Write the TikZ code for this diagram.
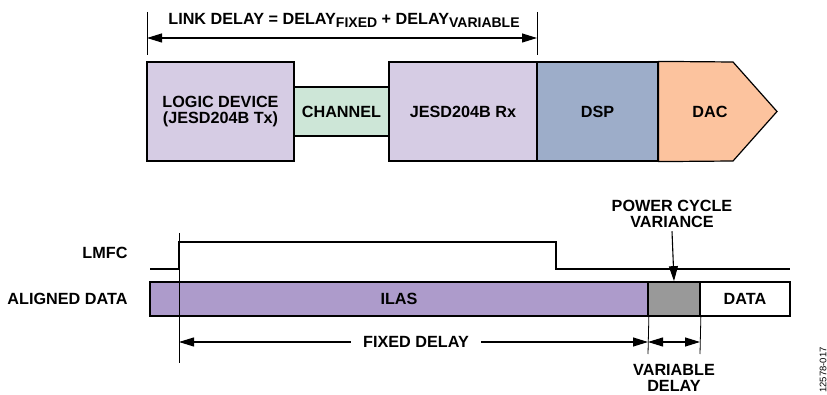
\documentclass[tikz,border=0pt]{standalone}
\usepackage{fontspec}
\setmainfont{Liberation Sans}
\usetikzlibrary{arrows.meta}
\definecolor{logicfill}{HTML}{D6CCE4}
\definecolor{chanfill}{HTML}{CDE6D7}
\definecolor{dspfill}{HTML}{9DADC9}
\definecolor{dacfill}{HTML}{FCC39E}
\definecolor{ilasfill}{HTML}{AD9BCB}
\definecolor{varfill}{HTML}{999999}
\newcommand{\subtxt}[1]{\raisebox{-0.35ex}{\fontsize{14}{14}\selectfont #1}}
\begin{document}
\begin{tikzpicture}[x=1pt, y=-1pt,
  every node/.style={font=\fontsize{16.2}{16}\selectfont\bfseries},
  blk/.style={draw, line width=1.2pt, align=center, inner sep=0pt},
  bar/.style={draw, line width=1.7pt, inner sep=0pt, minimum height=34pt},
  tip/.style={-{Triangle[length=15pt, width=9pt]}},
  dim/.style={line width=1.1pt, {Triangle[length=15pt, width=9pt]}-{Triangle[length=15pt, width=9pt]}},
  tick/.style={line width=0.8pt}]
  \useasboundingbox (0,0) rectangle (827,395);
  % link delay
  \coordinate (ldA) at (147,38); \coordinate (ldB) at (537,38);
  \draw[tick] (147,12) -- (147,55); \draw[tick] (537,12) -- (537,55);
  \draw[dim] (ldA) -- (ldB);
  \node (ldtxt) at (344,20) {LINK DELAY = DELAY\subtxt{FIXED} + DELAY\subtxt{VARIABLE}};
  % signal chain
  \node[blk, fill=logicfill, minimum width=147pt, minimum height=99pt] (logic) at (220.5,111.5) {LOGIC DEVICE\\(JESD204B Tx)};
  \node[blk, fill=chanfill, minimum width=95pt, minimum height=49pt] (chan) at (341.5,111.5) {CHANNEL};
  \node[blk, fill=logicfill, minimum width=148pt, minimum height=99pt] (rx) at (463,111.5) {JESD204B Rx};
  \node[blk, fill=dspfill, minimum width=121pt, minimum height=99pt] (dsp) at (597.5,111.5) {DSP};
  \draw[line width=1.2pt, fill=dacfill] (dsp.north east) -- (733,62) -- (777,111.5) -- (733,161) -- (dsp.south east) -- cycle;
  \node (dac) at (710,111.5) {DAC};
  % timing
  \node[anchor=east] (lmfc) at (131,253) {LMFC};
  \node[anchor=east] (aligned) at (131,299) {ALIGNED DATA};
  \node[bar, fill=ilasfill, minimum width=498pt] (ilas) at (399,299) {ILAS};
  \node[bar, fill=varfill, minimum width=52pt] (var) at (674,299) {};
  \node[bar, fill=white, minimum width=90pt] (data) at (745,299) {DATA};
  \draw[line width=1.7pt] (150,269) -- (179,269) -- (179,242) -- (556,242) -- (556,269) -- (790,269);
  \draw[tick] (179,233) -- (179,363);
  \draw[tick] (ilas.south east) -- (648,354);
  \draw[tick] (var.south east) -- (700,354);
  \node[inner xsep=12pt] (fixed) at (416,342) {FIXED DELAY};
  \draw[line width=1.1pt, tip] (fixed.west) -- (179,342);
  \draw[line width=1.1pt, tip] (fixed.east) -- (648,342);
  \draw[dim] (648,342) -- (700,342);
  \node[align=center] (pcv) at (672,214) {POWER CYCLE\\VARIANCE};
  \draw[line width=1.1pt, tip] (pcv.south) -- (var.north);
  \node[align=center] (vdelay) at (674,378) {VARIABLE\\DELAY};
  \node[rotate=90, font=\fontsize{9.5}{10}\selectfont] (figno) at (823,370) {12578-017};
\end{tikzpicture}
\end{document}
